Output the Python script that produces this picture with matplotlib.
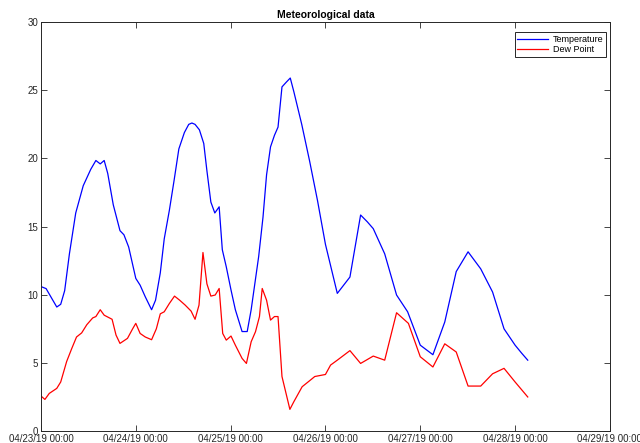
import matplotlib
matplotlib.use("Agg")
import matplotlib.pyplot as plt
import matplotlib.dates as mdates
import pandas as pd

plt.rcParams['font.family'] = ['Liberation Sans', 'DejaVu Sans']

start = pd.Timestamp("2019-04-23 00:00")

temp_hours = [0, 1.3, 4, 5, 6, 7.2, 8.8, 10.7, 12.6, 13.9, 15, 16, 16.9, 18.3, 20, 21, 22.2,
              24, 25.1, 26.4, 28, 29, 30.2, 31.2, 32.5, 33.7, 34.9, 36.3, 37.4, 38.2, 39, 40.1,
              41.2, 42, 43, 44, 45.1, 45.9, 46.9, 48.1, 49.2, 50.9, 52.2, 53.2, 55.1, 56.2,
              57.1, 58.1, 59.1, 60, 61, 62.1, 63.1, 64, 66, 68, 70, 72, 75, 78.2, 80.9, 82.6,
              84.1, 87, 90, 92.8, 96, 99.2, 102.2, 105.1, 108.1, 111.3, 114.3, 117.2, 120,
              121.7, 123.2]
temp_vals = [10.6, 10.45, 9.1, 9.3, 10.3, 13.0, 16.0, 18.0, 19.2, 19.85, 19.6, 19.85, 18.9,
             16.6, 14.7, 14.4, 13.5, 11.2, 10.7, 9.85, 8.9, 9.6, 11.6, 14.1, 16.2, 18.4, 20.7,
             21.9, 22.5, 22.6, 22.5, 22.1, 21.1, 19.1, 16.8, 16.0, 16.45, 13.3, 12.05, 10.35,
             8.9, 7.3, 7.3, 8.9, 12.8, 15.7, 18.8, 20.85, 21.7, 22.3, 25.25, 25.6, 25.9, 24.9,
             22.5, 19.8, 16.9, 13.7, 10.1, 11.3, 15.85, 15.35, 14.85, 13.0, 9.98, 8.75, 6.3,
             5.6, 8.0, 11.7, 13.15, 11.9, 10.2, 7.5, 6.3, 5.7, 5.2]

dew_hours = [0, 1, 2.1, 4, 5, 6.5, 7.8, 9, 10.3, 11.6, 13.1, 13.9, 15, 16, 18, 19, 20, 21.9,
             23.2, 24, 25.1, 26.4, 28, 29.2, 30.2, 31.2, 32.5, 33.8, 35.1, 36.5, 38, 39, 40,
             41, 42, 43, 44.1, 45.1, 46, 46.9, 48.1, 49.2, 50.9, 52, 53.2, 54.3, 55.3, 56,
             57.1, 58.1, 59.1, 60, 61, 63, 64, 66.1, 68.2, 69.3, 72, 73.3, 75, 78.2, 80.9,
             84.1, 87, 90, 93, 96, 99.2, 102.2, 105.1, 108.1, 111.3, 114.3, 117.2, 120, 123.2]
dew_vals = [2.57, 2.32, 2.76, 3.13, 3.6, 5.1, 6.06, 6.9, 7.2, 7.8, 8.3, 8.4, 8.9, 8.5, 8.2,
            7.04, 6.43, 6.8, 7.5, 7.9, 7.16, 6.9, 6.7, 7.5, 8.6, 8.75, 9.36, 9.9, 9.6, 9.24,
            8.8, 8.2, 9.24, 13.1, 10.8, 9.9, 9.98, 10.46, 7.16, 6.67, 6.97, 6.3, 5.33, 4.96,
            6.55, 7.29, 8.4, 10.46, 9.6, 8.14, 8.4, 8.4, 4.0, 1.59, 2.15, 3.25, 3.74, 4.0,
            4.15, 4.84, 5.2, 5.9, 4.96, 5.5, 5.2, 8.68, 7.9, 5.45, 4.7, 6.4, 5.8, 3.3, 3.3,
            4.2, 4.6, 3.6, 2.5]

y_ticks = [0, 5, 10, 15, 20, 25, 30]

temp_t = [start + pd.Timedelta(hours=h) for h in temp_hours]
dew_t = [start + pd.Timedelta(hours=h) for h in dew_hours]

fig = plt.figure(figsize=(6.4, 4.43), dpi=100)
ax = fig.add_axes([0.064, 0.027, 0.889, 0.923])
ax.plot(temp_t, temp_vals, color=(0, 0, 1), lw=0.9, label="Temperature")
ax.plot(dew_t, dew_vals, color=(1, 0, 0), lw=0.9, label="Dew Point")

ax.set_xlim(start, start + pd.Timedelta(days=6))
ax.set_ylim(0, 30)
ax.set_yticks(y_ticks)
ax.xaxis.set_major_locator(mdates.DayLocator())
ax.xaxis.set_major_formatter(mdates.DateFormatter('%m/%d/%y %H:%M'))
ax.tick_params(direction='in', top=True, right=True, length=4, width=0.6,
               labelsize=7, pad=2, colors='#262626')
for s in ax.spines.values():
    s.set_linewidth(0.7)
    s.set_color('#262626')
ax.set_title("Meteorological data", fontsize=7.5, fontweight='bold', pad=3)
leg = ax.legend(loc='upper right', bbox_to_anchor=(0.993, 0.975), borderaxespad=0,
                fontsize=6.5, fancybox=False, framealpha=1,
                edgecolor='#262626', borderpad=0.3, labelspacing=0.1, handlelength=3.4,
                handletextpad=0.5)
leg.get_frame().set_linewidth(0.7)

fig.savefig("out.png", dpi=100)
